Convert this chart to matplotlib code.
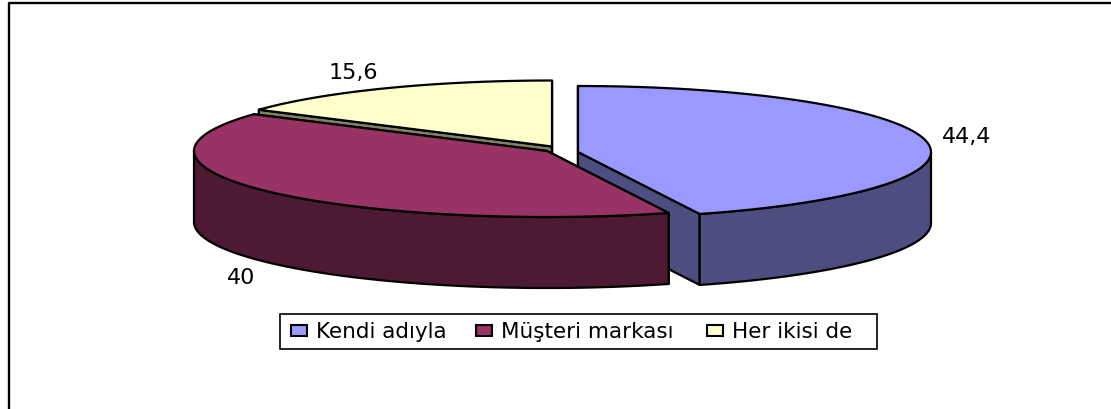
import numpy as np
import matplotlib
matplotlib.use("Agg")
import matplotlib.pyplot as plt
from matplotlib.patches import Polygon, Rectangle

labels = ["Kendi adıyla", "Müşteri markası", "Her ikisi de"]
values = [44.4, 40, 15.6]
value_labels = ["44,4", "40", "15,6"]
top_colors = ["#9999ff", "#993366", "#ffffcc"]
side_colors = ["#4d4d80", "#4d1933", "#808066"]

# centro de cada fatia (pie "explodido"), em pixels da imagem
centers = [(578, 153), (547, 152), (552, 147.5)]
label_pos = [(967, 137), (241, 278), (353, 73)]
rx, ry, depth = 353, 66, 71

plt.rcParams["font.family"] = ["DejaVu Sans"]
fig = plt.figure(figsize=(11.11, 4.10), dpi=100)
ax = fig.add_axes([0, 0, 1, 1])
ax.set_xlim(0, 1111)
ax.set_ylim(410, 0)
ax.axis("off")

ax.plot([9, 9, 1111], [410, 4, 4], color="black", lw=1.7)


def arc(c, t0, t1):
    t = np.radians(np.linspace(t0, t1, 120))
    return np.column_stack([c[0] + rx * np.sin(t), c[1] - ry * np.cos(t)])


def draw_slice(i, t0, t1):
    c = centers[i]
    kw = dict(edgecolor="black", lw=1.6, joinstyle="round")
    # faces do corte primeiro, a parede externa fica na frente
    for t in (t0, t1):
        p = arc(c, t, t)[0]
        face = [c, p, (p[0], p[1] + depth), (c[0], c[1] + depth)]
        ax.add_patch(Polygon(face, facecolor=side_colors[i], **kw))
    a0, a1 = max(t0, 90), min(t1, 270)
    if a0 < a1:
        pts = arc(c, a0, a1)
        wall = np.vstack([pts, pts[::-1] + [0, depth]])
        ax.add_patch(Polygon(wall, facecolor=side_colors[i], **kw))
    # topo
    ax.add_patch(Polygon(np.vstack([[c], arc(c, t0, t1)]), facecolor=top_colors[i], **kw))


angles = np.cumsum([0] + values) * 3.6
for i in [2, 0, 1]:
    draw_slice(i, angles[i], angles[i + 1])

for txt, pos in zip(value_labels, label_pos):
    ax.text(pos[0], pos[1], txt, fontsize=16, ha="center", va="center")

# legenda
ax.add_patch(Rectangle((280, 315), 597, 35, facecolor="white", edgecolor="black", lw=1.2))
swatch_x = [291, 476, 707]
text_x = [316, 501, 732]
for i, txt in enumerate(labels):
    ax.add_patch(Rectangle((swatch_x[i], 326), 16, 11, facecolor=top_colors[i], edgecolor="black", lw=1.5))
    ax.text(text_x[i], 332, txt, fontsize=15.5, ha="left", va="center")

fig.savefig("out.png", dpi=100)
